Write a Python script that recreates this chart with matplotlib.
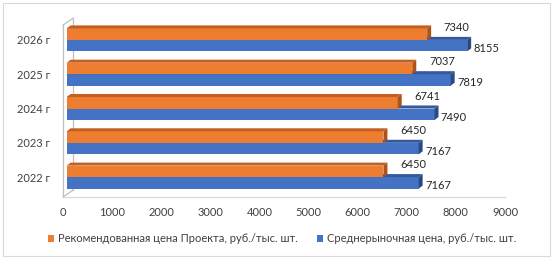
import matplotlib.pyplot as plt
from matplotlib.patches import Polygon, Rectangle

plt.rcParams['font.family'] = ['Lato', 'DejaVu Sans']

years = ['2022 г', '2023 г', '2024 г', '2025 г', '2026 г']
recommended = [6450, 6450, 6741, 7037, 7340]
market = [7167, 7167, 7490, 7819, 8155]
xticks = [0, 1000, 2000, 3000, 4000, 5000, 6000, 7000, 8000, 9000]
label_rec = 'Рекомендованная цена Проекта, руб./тыс. шт.'
label_mkt = 'Среднерыночная цена, руб./тыс. шт.'

ORANGE = '#ED7D31'
ORANGE_TOP = '#C3601F'
ORANGE_SIDE = '#AE5215'
BLUE = '#4472C4'
BLUE_TOP = '#34599C'
BLUE_SIDE = '#2B4A84'
WALL = '#BFBFBF'

fig = plt.figure(figsize=(5.56, 2.60), dpi=100)
ax = fig.add_axes([63 / 556, 63 / 260, 442 / 556, 177 / 260])
ax.set_xlim(0, 9000)
ax.set_ylim(-0.58, 4.58)

h = 0.335      # bar height
ddx = 81       # depth offset of bars (data units)
ddy = 0.088
x0 = 75        # bars sit a bit behind the front edge of the wall


def bar3d(y0, v, front, top, side, z):
    y1 = y0 + h
    xe = x0 + v
    ax.add_patch(Rectangle((x0, y0), v, h, facecolor=front, edgecolor='none', zorder=z))
    ax.add_patch(Polygon([(x0, y1), (xe, y1), (xe + ddx, y1 + ddy), (x0 + ddx, y1 + ddy)],
                         facecolor=top, edgecolor='none', zorder=z))
    ax.add_patch(Polygon([(xe, y0), (xe, y1), (xe + ddx, y1 + ddy), (xe + ddx, y0 + ddy)],
                         facecolor=side, edgecolor='none', zorder=z))


for i in range(len(years)):
    bar3d(i - h, market[i], BLUE, BLUE_TOP, BLUE_SIDE, 2)
    bar3d(i, recommended[i], ORANGE, ORANGE_TOP, ORANGE_SIDE, 3)
    ax.annotate(str(recommended[i]), (x0 + recommended[i], i + h / 2), xytext=(12, 4.7),
                textcoords='offset points', ha='left', va='center',
                fontsize=8, color='#262626', zorder=5)
    ax.annotate(str(market[i]), (x0 + market[i], i - h / 2), xytext=(4.5, -2),
                textcoords='offset points', ha='left', va='center',
                fontsize=8, color='#262626', zorder=5)

# side wall and floor
wx, wy = 204, 0.2
ytop = 4.43
ybot = -0.58
ax.plot([0, 0], [ybot, ytop], color=WALL, lw=0.9, zorder=4, clip_on=False)
ax.plot([wx, wx], [ybot + wy, ytop + wy], color=WALL, lw=0.9, zorder=1, clip_on=False)
ax.plot([0, wx], [ytop, ytop + wy], color=WALL, lw=0.9, zorder=4, clip_on=False)
ax.plot([0, wx], [ybot, ybot + wy], color=WALL, lw=0.9, zorder=4, clip_on=False)
ax.plot([0, 9000], [ybot, ybot], color='#D9D9D9', lw=0.9, zorder=4, clip_on=False)

for s in ax.spines.values():
    s.set_visible(False)
ax.set_xticks(xticks)
ax.set_xticklabels([str(t) for t in xticks], fontsize=8, color='#404040')
ax.set_yticks(range(len(years)))
ax.set_yticklabels(years, fontsize=8, color='#404040')
ax.tick_params(axis='both', length=0)
ax.tick_params(axis='x', pad=7)
ax.tick_params(axis='y', pad=9)

handles = [Rectangle((0, 0), 1, 1, facecolor=ORANGE), Rectangle((0, 0), 1, 1, facecolor=BLUE)]
fig.legend(handles, [label_rec, label_mkt], loc='center', bbox_to_anchor=(282 / 556, 1 - 239 / 260),
           ncol=2, frameon=False, fontsize=8, handlelength=0.55, handleheight=0.55,
           handletextpad=0.35, columnspacing=1.7, labelcolor='#404040')

fig.patches.append(Rectangle((3 / 556, 4 / 260), 547 / 556, 253 / 260, transform=fig.transFigure,
                             fill=False, edgecolor='#D9D9D9', lw=0.8))

fig.savefig('out.png', dpi=100)
